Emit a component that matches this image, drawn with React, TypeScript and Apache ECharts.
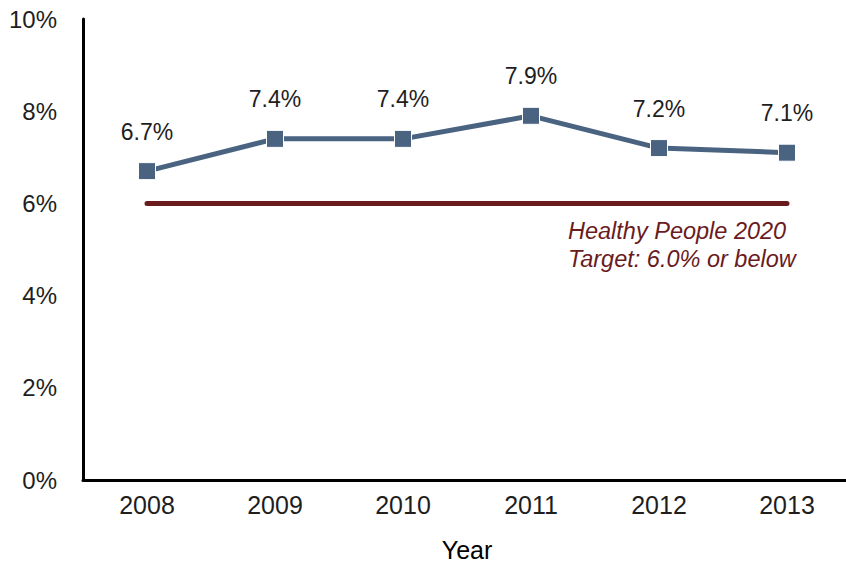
import React, { useEffect, useRef } from "react";
import * as echarts from "echarts";

const years = ["2008", "2009", "2010", "2011", "2012", "2013"];
const rates = [6.7, 7.4, 7.4, 7.9, 7.2, 7.1];
const target = [6, 6, 6, 6, 6, 6];
const yTicks = [0, 2, 4, 6, 8, 10];
const noteLines = ["Healthy People 2020", "Target: 6.0% or below"];

const FONT = "'Liberation Sans', Arial, Helvetica, sans-serif";

export default function App() {
  const ref = useRef<HTMLDivElement>(null);
  useEffect(() => {
    if (!ref.current) return;
    const chart = echarts.init(ref.current, undefined, { renderer: "svg" });
    chart.setOption({
      animation: false,
      backgroundColor: "#ffffff",
      grid: { left: 83, top: 19, width: 768, height: 463, containLabel: false },
      xAxis: {
        type: "category",
        data: years,
        boundaryGap: true,
        axisLine: { lineStyle: { color: "#000", width: 3 } },
        axisTick: { show: false },
        axisLabel: { color: "#1e1e1e", fontSize: 25, fontFamily: FONT, margin: 12 },
        name: "Year",
        nameLocation: "middle",
        nameGap: 57,
        nameTextStyle: { color: "#000", fontSize: 25, fontFamily: FONT },
      },
      yAxis: {
        type: "value",
        min: yTicks[0],
        max: yTicks[yTicks.length - 1],
        interval: 2,
        axisLine: { show: true, lineStyle: { color: "#000", width: 3 } },
        axisTick: { show: false },
        splitLine: { show: false },
        axisLabel: {
          color: "#1e1e1e",
          fontSize: 24,
          fontFamily: FONT,
          margin: 26,
          formatter: (v: number) => `${v}%`,
        },
      },
      series: [
        {
          type: "line",
          data: target,
          symbol: "none",
          lineStyle: { color: "#6a1b1e", width: 5, cap: "round" },
          z: 2,
        },
        {
          type: "line",
          data: rates,
          symbol: "rect",
          symbolSize: 17,
          itemStyle: { color: "#4a6381", borderColor: "#ffffff", borderWidth: 1 },
          lineStyle: { color: "#4a6381", width: 5 },
          label: {
            show: true,
            position: "top",
            distance: 19,
            color: "#1e1e1e",
            fontSize: 23,
            fontFamily: FONT,
            formatter: (p: any) => `${p.value.toFixed(1)}%`,
          },
          z: 3,
        },
      ],
      graphic: [
        {
          type: "text",
          left: 568,
          top: 217,
          style: {
            text: noteLines.join("\n"),
            fill: "#6a1b1e",
            fontSize: 23.5,
            fontStyle: "italic",
            fontFamily: FONT,
            lineHeight: 28,
          },
        },
      ],
    });
    return () => chart.dispose();
  }, []);
  return (
    <div
      ref={ref}
      style={{ position: "fixed", left: 0, top: 0, width: 852, height: 567 }}
    />
  );
}
